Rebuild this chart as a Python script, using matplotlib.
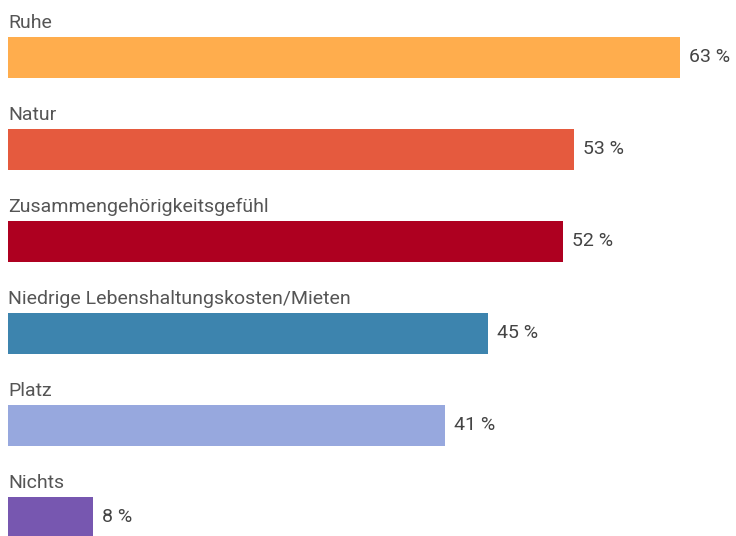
import matplotlib.pyplot as plt

# what people value about rural life (share of respondents, %)
categories = ["Ruhe", "Natur", "Zusammengehörigkeitsgefühl",
              "Niedrige Lebenshaltungskosten/Mieten", "Platz", "Nichts"]
values = [63, 53, 52, 45, 41, 8]
colors = ["#FFAD4D", "#E55A3E", "#AE0020", "#3D84AE", "#97A8DE", "#7757B0"]

W, H = 736, 536
fig = plt.figure(figsize=(W / 100, H / 100), dpi=100)
# axes spans the whole canvas; y measured in pixels from the top
ax = fig.add_axes([8 / W, 0, 1 - 8 / W, 1])
px_per_pct = 10.67
ax.set_xlim(0, (W - 8) / px_per_pct)
ax.set_ylim(H, 0)
ax.axis("off")

pitch = 92
bar_h = 41
first_center = 57.5
font = "Roboto"

for i, (cat, val, col) in enumerate(zip(categories, values, colors)):
    yc = first_center + i * pitch
    ax.barh(yc, val, height=bar_h, color=col, left=0)
    ax.text(0, yc - 29, cat, ha="left", va="baseline",
            fontsize=14, color="#555555", family=font)
    ax.text(val + 9 / px_per_pct, yc + 5, f"{val} %", ha="left", va="baseline",
            fontsize=14, color="#444444", family=font)

fig.savefig("out.png", dpi=100)
